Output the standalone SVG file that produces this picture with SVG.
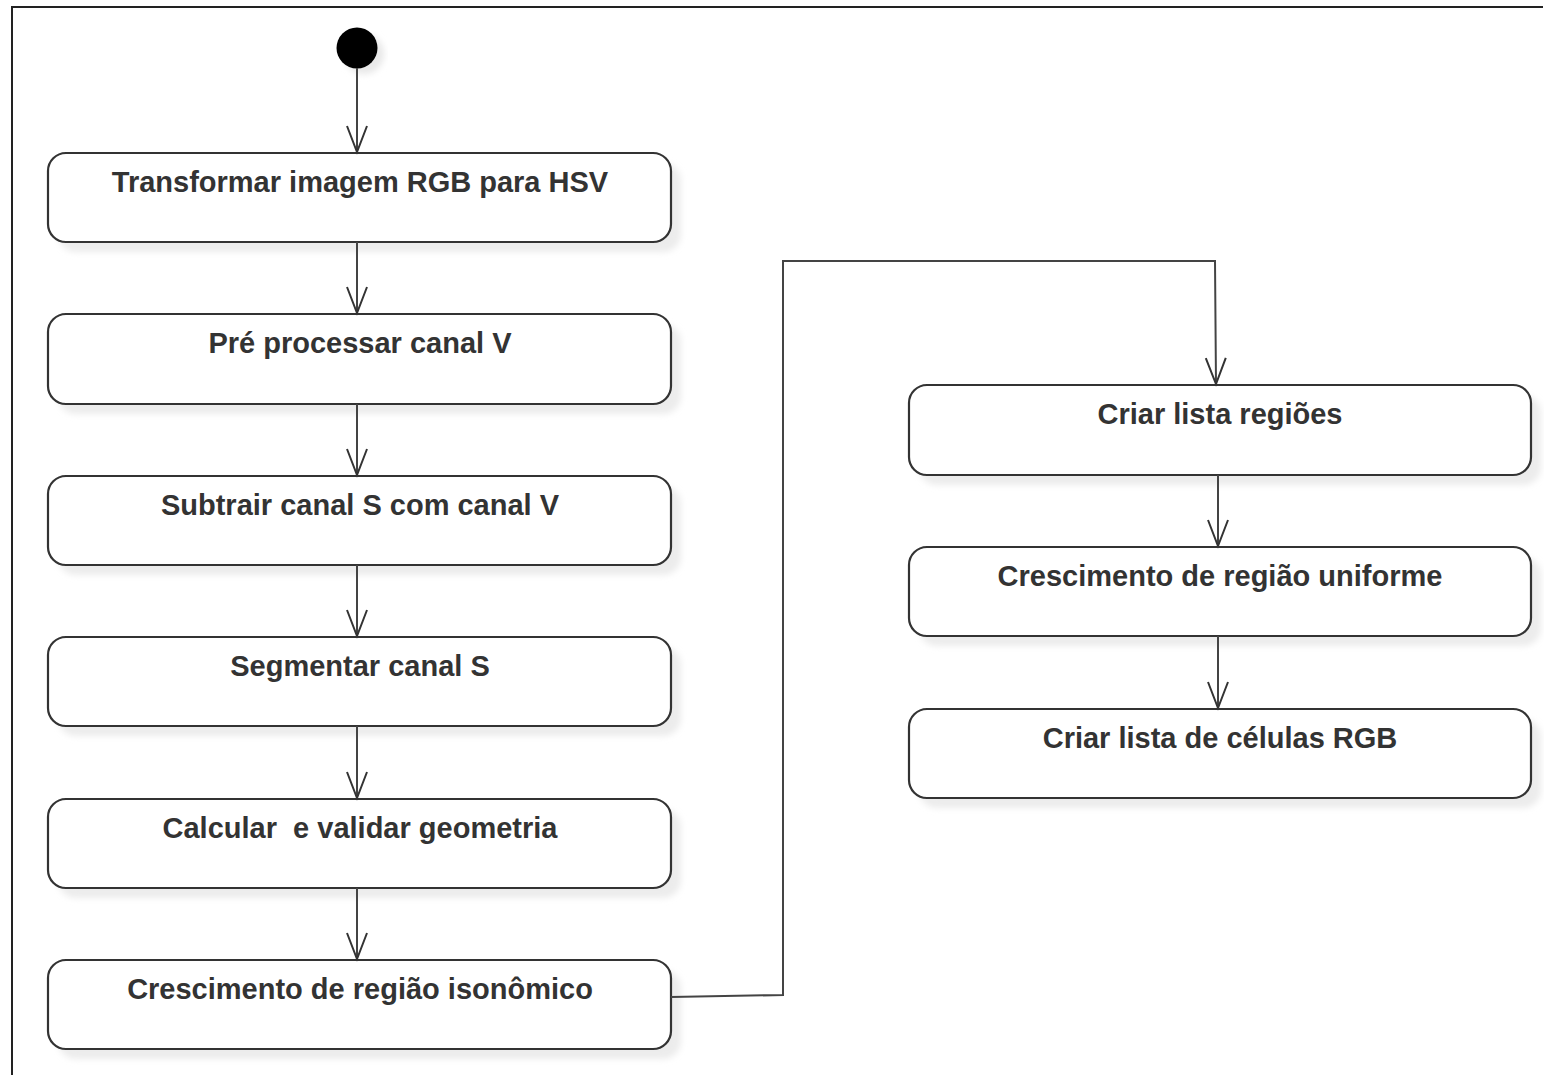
<svg xmlns="http://www.w3.org/2000/svg" width="1544" height="1075" viewBox="0 0 1544 1075">
<style>
.box{fill:#fff;stroke:#333;stroke-width:2.2}
.sh{fill:#ececec}
.t{font-family:"Liberation Sans",Arial,sans-serif;font-weight:bold;font-size:29px;fill:#333;text-anchor:middle}
.c{fill:none;stroke:#444;stroke-width:2}
</style>
<defs>
<filter id="blur" x="-10%" y="-10%" width="120%" height="130%"><feGaussianBlur stdDeviation="3"/></filter>
<marker id="arr" markerWidth="30" markerHeight="24" refX="27" refY="11" orient="auto" markerUnits="userSpaceOnUse" viewBox="0 0 30 22">
<path d="M1,1 L27,11 L1,21" fill="none" stroke="#333" stroke-width="2"/>
</marker>
</defs>
<rect x="0" y="0" width="1544" height="1075" fill="#fff"/>
<path d="M12,1075 L12,7 L1543,7" fill="none" stroke="#222" stroke-width="2"/>

<g id="start">
<circle cx="364" cy="54" r="20" fill="#e8e8e8" filter="url(#blur)"/>
<circle cx="357" cy="48" r="20.5" fill="#000"/>
</g>

<g id="n1"><rect class="sh" x="58" y="163" width="623" height="89" rx="18" filter="url(#blur)"/><rect class="box" x="48" y="153" width="623" height="89" rx="18"/><text class="t" x="360" y="192">Transformar imagem RGB para HSV</text></g>
<g id="n2"><rect class="sh" x="58" y="324" width="623" height="90" rx="18" filter="url(#blur)"/><rect class="box" x="48" y="314" width="623" height="90" rx="18"/><text class="t" x="360" y="353">Pré processar canal V</text></g>
<g id="n3"><rect class="sh" x="58" y="486" width="623" height="89" rx="18" filter="url(#blur)"/><rect class="box" x="48" y="476" width="623" height="89" rx="18"/><text class="t" x="360" y="515">Subtrair canal S com canal V</text></g>
<g id="n4"><rect class="sh" x="58" y="647" width="623" height="89" rx="18" filter="url(#blur)"/><rect class="box" x="48" y="637" width="623" height="89" rx="18"/><text class="t" x="360" y="676">Segmentar canal S</text></g>
<g id="n5"><rect class="sh" x="58" y="809" width="623" height="89" rx="18" filter="url(#blur)"/><rect class="box" x="48" y="799" width="623" height="89" rx="18"/><text class="t" x="360" y="838" xml:space="preserve">Calcular  e validar geometria</text></g>
<g id="n6"><rect class="sh" x="58" y="970" width="623" height="89" rx="18" filter="url(#blur)"/><rect class="box" x="48" y="960" width="623" height="89" rx="18"/><text class="t" x="360" y="999">Crescimento de região isonômico</text></g>

<g id="n7"><rect class="sh" x="919" y="395" width="622" height="90" rx="18" filter="url(#blur)"/><rect class="box" x="909" y="385" width="622" height="90" rx="18"/><text class="t" x="1220" y="424">Criar lista regiões</text></g>
<g id="n8"><rect class="sh" x="919" y="557" width="622" height="89" rx="18" filter="url(#blur)"/><rect class="box" x="909" y="547" width="622" height="89" rx="18"/><text class="t" x="1220" y="586">Crescimento de região uniforme</text></g>
<g id="n9"><rect class="sh" x="919" y="719" width="622" height="89" rx="18" filter="url(#blur)"/><rect class="box" x="909" y="709" width="622" height="89" rx="18"/><text class="t" x="1220" y="748">Criar lista de células RGB</text></g>

<g id="connectors">
<path class="c" d="M357,68 L357,152" marker-end="url(#arr)"/>
<path class="c" d="M357,242 L357,313" marker-end="url(#arr)"/>
<path class="c" d="M357,404 L357,475" marker-end="url(#arr)"/>
<path class="c" d="M357,565 L357,636" marker-end="url(#arr)"/>
<path class="c" d="M357,726 L357,798" marker-end="url(#arr)"/>
<path class="c" d="M357,888 L357,959" marker-end="url(#arr)"/>
<path class="c" d="M671,997 L783,995 L783,261 L1215,261 L1216,384" marker-end="url(#arr)"/>
<path class="c" d="M1218,475 L1218,546" marker-end="url(#arr)"/>
<path class="c" d="M1218,636 L1218,708" marker-end="url(#arr)"/>
</g>
</svg>
